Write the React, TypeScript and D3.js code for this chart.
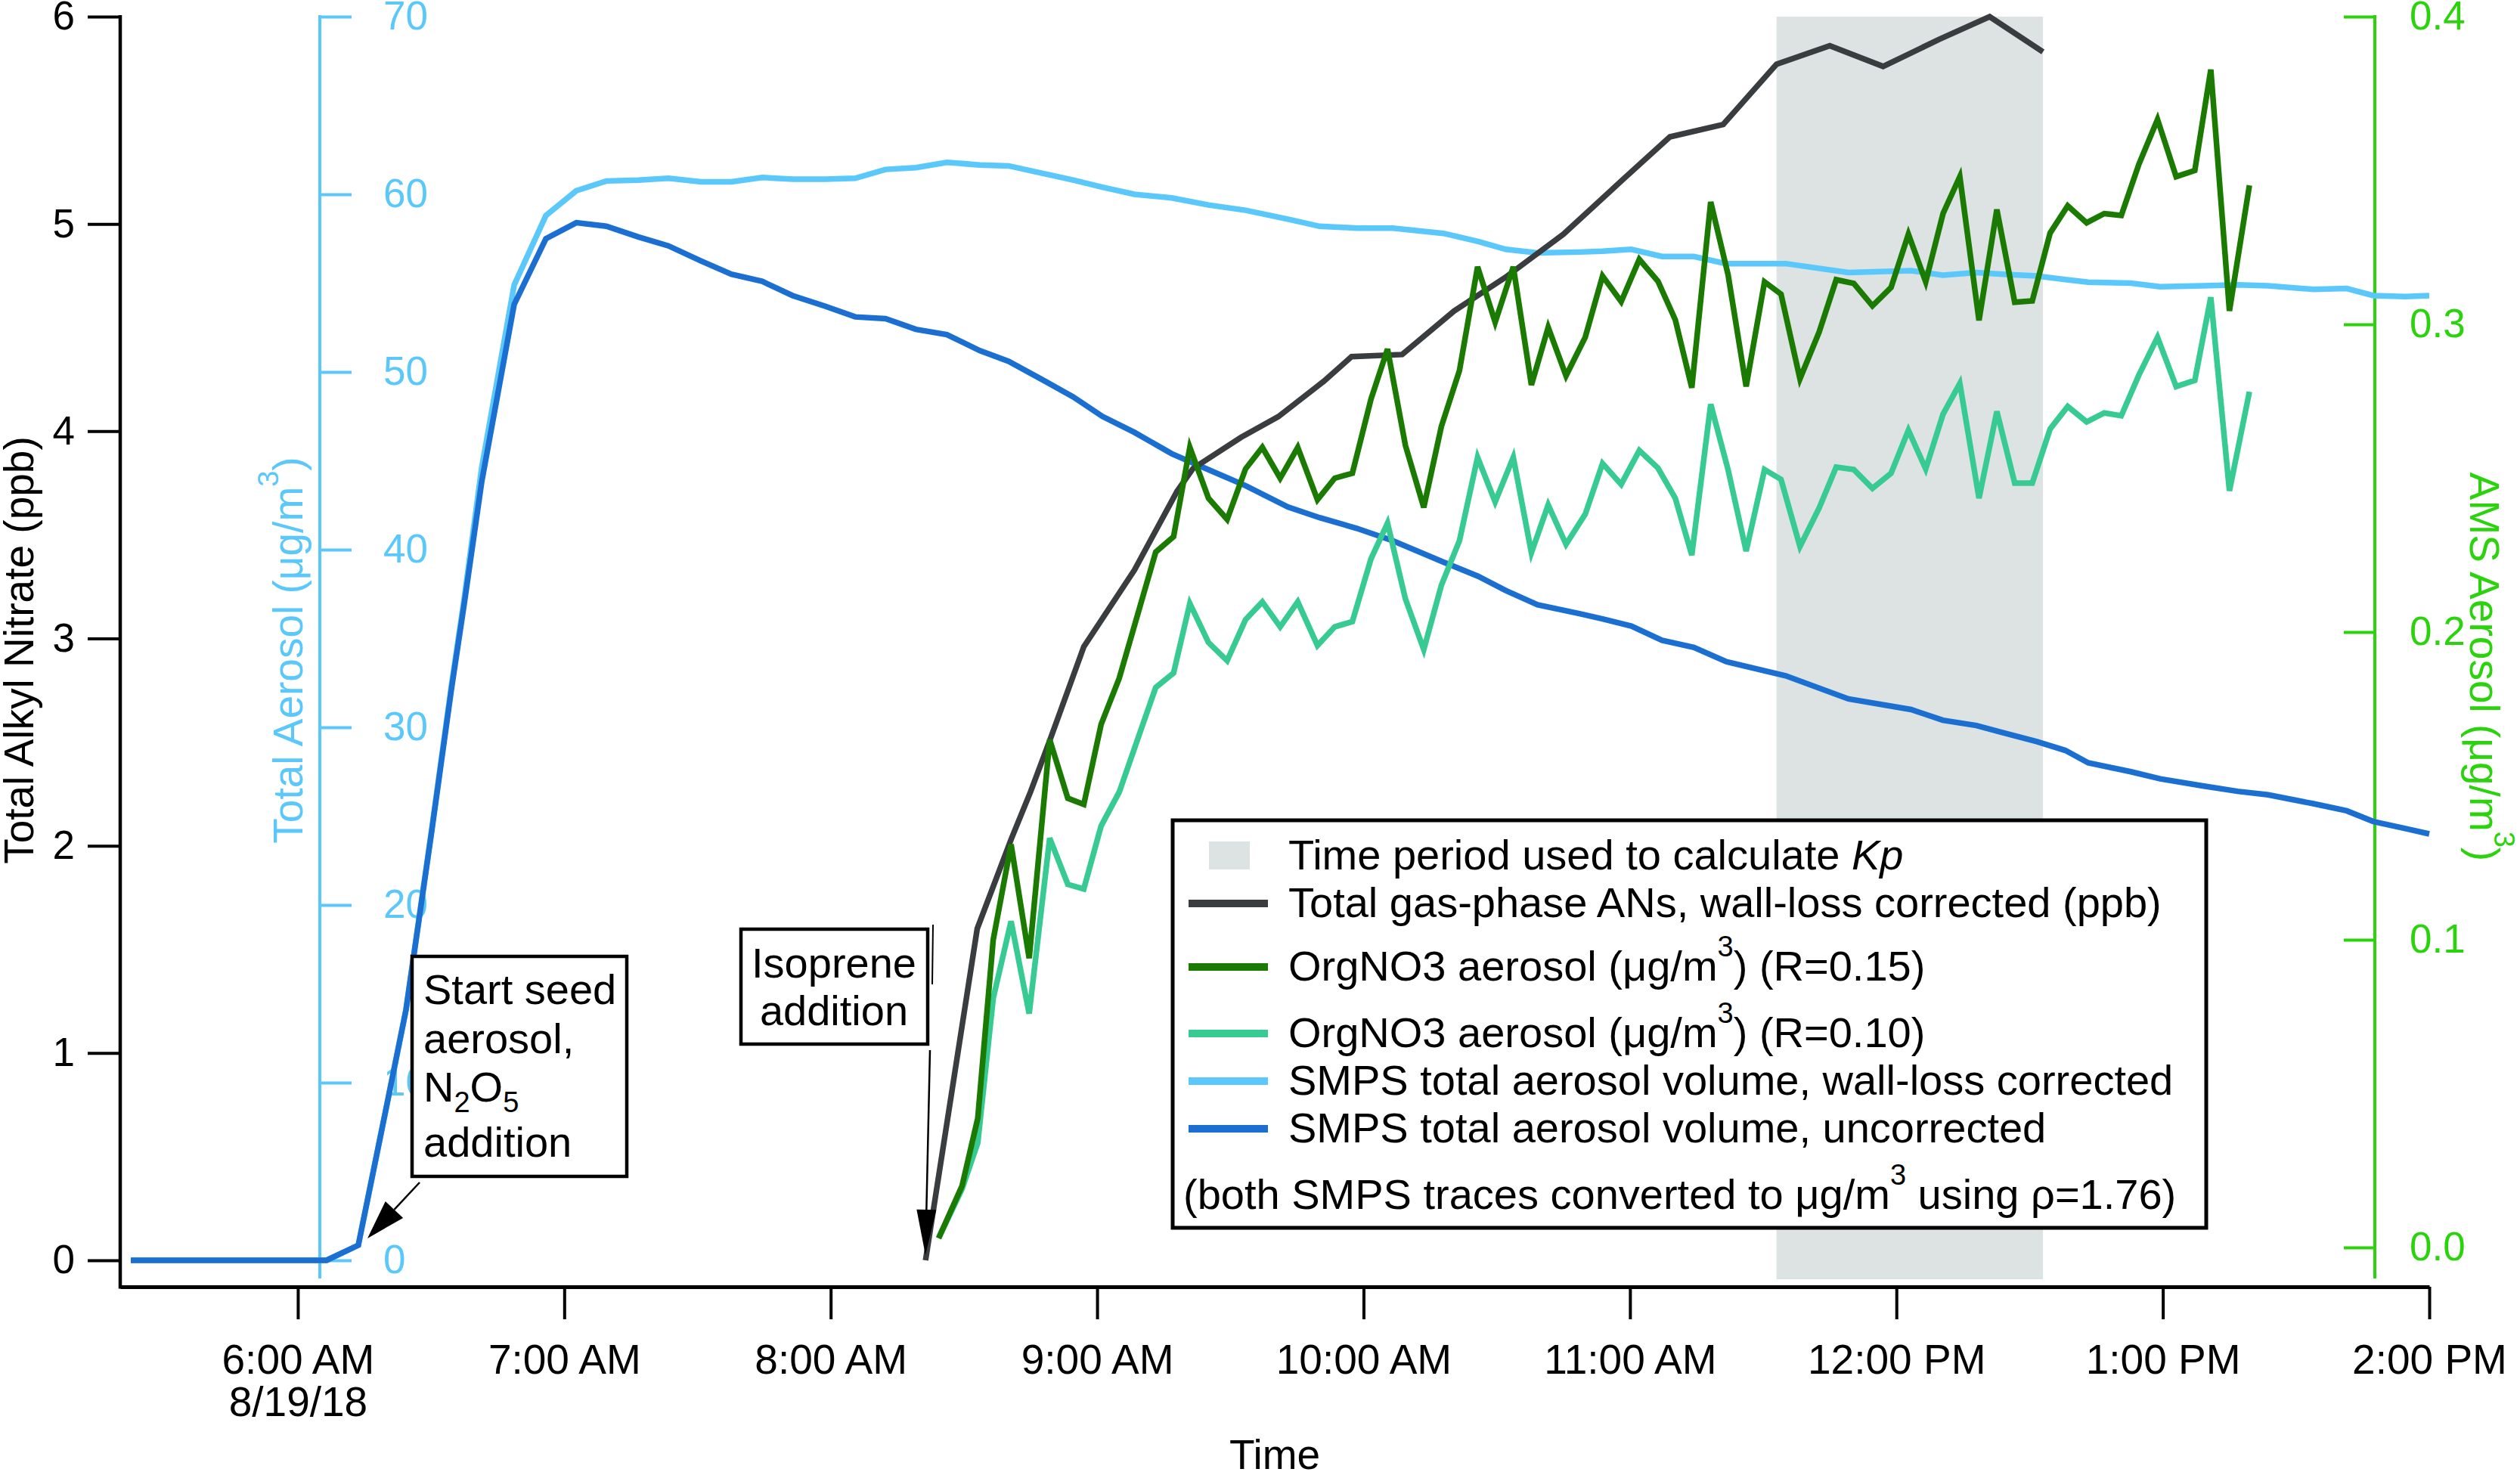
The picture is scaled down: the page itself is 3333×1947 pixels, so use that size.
import React, { useEffect, useRef } from 'react';
import * as d3 from 'd3';

const W = 3333;
const H = 1947;
const FONT = '"Liberation Sans", Arial, Helvetica, sans-serif';

// times are decimal hours on 8/19/18
const smpsHours = [
  5.373, 6.108, 6.227, 6.332, 6.406, 6.502, 6.576, 6.625, 6.69, 6.812,
  6.931, 7.045, 7.158, 7.278, 7.391, 7.513, 7.627, 7.743, 7.857, 7.979,
  8.092, 8.206, 8.32, 8.436, 8.56, 8.668, 8.79, 8.91, 9.02, 9.14,
  9.28, 9.418, 9.557, 9.716, 9.835, 9.974, 10.11, 10.3, 10.43, 10.534,
  10.653, 10.81, 10.897, 11.005, 11.12, 11.24, 11.36, 11.584, 11.82, 12.055,
  12.174, 12.3, 12.4, 12.527, 12.634, 12.72, 12.88, 12.99, 13.15, 13.28,
  13.395, 13.565, 13.69, 13.79, 13.91, 14.0,
];
const smpsUncorrected = [
  0, 0, 0.85, 8.6, 14.1, 24.1, 32.1, 37.0, 43.8, 53.8,
  57.5, 58.4, 58.2, 57.6, 57.1, 56.25, 55.5, 55.1, 54.3, 53.7,
  53.1, 53.0, 52.4, 52.1, 51.2, 50.6, 49.6, 48.6, 47.5, 46.6,
  45.4, 44.5, 43.6, 42.4, 41.8, 41.2, 40.5, 39.3, 38.5, 37.7,
  36.9, 36.4, 36.1, 35.7, 34.9, 34.5, 33.7, 32.9, 31.6, 31.0,
  30.4, 30.1, 29.7, 29.2, 28.7, 28.0, 27.5, 27.1, 26.7, 26.4,
  26.2, 25.7, 25.3, 24.7, 24.3, 24.0,
];
const smpsCorrected = [
  0, 0, 0.85, 8.6, 14.1, 24.2, 32.3, 37.3, 44.6, 54.9,
  58.8, 60.2, 60.75, 60.8, 60.9, 60.7, 60.7, 60.95, 60.85, 60.85,
  60.9, 61.4, 61.5, 61.8, 61.65, 61.6, 61.2, 60.8, 60.4, 60.0,
  59.8, 59.4, 59.1, 58.6, 58.2, 58.1, 58.1, 57.8, 57.35, 56.9,
  56.7, 56.75, 56.8, 56.9, 56.5, 56.5, 56.1, 56.1, 55.6, 55.7,
  55.45, 55.6, 55.5, 55.4, 55.2, 55.05, 55.0, 54.8, 54.85, 54.9,
  54.85, 54.65, 54.7, 54.3, 54.25, 54.3,
];

const anHours = [
  8.356, 8.55, 8.677, 8.75, 8.82, 8.95, 9.14, 9.3, 9.36, 9.54,
  9.68, 9.85, 9.955, 10.145, 10.34, 10.53, 10.75, 10.97, 11.15, 11.35,
  11.55, 11.75, 11.95, 12.16, 12.35, 12.55,
];
const totalANs = [
  0.0, 1.6, 2.03, 2.26, 2.5, 2.96, 3.33, 3.71, 3.82, 3.97,
  4.07, 4.24, 4.36, 4.37, 4.58, 4.74, 4.95, 5.21, 5.42, 5.48,
  5.77, 5.86, 5.76, 5.89, 6.0, 5.83,
];

const amsHours = [
  8.405, 8.493, 8.552, 8.61, 8.677, 8.745, 8.822, 8.89, 8.95, 9.015,
  9.083, 9.22, 9.287, 9.348, 9.418, 9.488, 9.557, 9.62, 9.687, 9.753,
  9.827, 9.892, 9.958, 10.028, 10.09, 10.157, 10.226, 10.292, 10.36, 10.428,
  10.494, 10.562, 10.63, 10.693, 10.76, 10.832, 10.897, 10.967, 11.035, 11.105,
  11.17, 11.232, 11.303, 11.368, 11.436, 11.505, 11.567, 11.638, 11.71, 11.774,
  11.84, 11.91, 11.98, 12.045, 12.11, 12.175, 12.238, 12.31, 12.377, 12.444,
  12.51, 12.577, 12.643, 12.714, 12.78, 12.844, 12.91, 12.98, 13.05, 13.12,
  13.18, 13.25, 13.325,
];
const orgNO3R015 = [
  0.003, 0.02, 0.042, 0.1, 0.131, 0.094, 0.165, 0.146, 0.144, 0.17,
  0.185, 0.226, 0.231, 0.26, 0.2435, 0.2366, 0.253, 0.26, 0.25, 0.26,
  0.243, 0.25, 0.2516, 0.2757, 0.292, 0.2607, 0.2405, 0.2668, 0.285, 0.3187,
  0.3007, 0.3187, 0.2803, 0.299, 0.2833, 0.2958, 0.3157, 0.3074, 0.3211, 0.314,
  0.3015, 0.2794, 0.3398, 0.3162, 0.2798, 0.3138, 0.3098, 0.2823, 0.2975, 0.3145,
  0.3133, 0.306, 0.312, 0.3293, 0.3138, 0.336, 0.348, 0.3013, 0.3373, 0.3072,
  0.3076, 0.3297, 0.3385, 0.333, 0.336, 0.3354, 0.352, 0.3666, 0.348, 0.35,
  0.3828, 0.3044, 0.3452,
];
const orgNO3R010 = [
  0.003, 0.019, 0.034, 0.081, 0.106, 0.076, 0.133, 0.118, 0.1165, 0.137,
  0.148, 0.182, 0.1867, 0.2093, 0.1966, 0.1907, 0.204, 0.2098, 0.2017, 0.2098,
  0.1956, 0.2017, 0.2034, 0.2238, 0.2354, 0.2108, 0.1943, 0.2152, 0.2297, 0.2568,
  0.2423, 0.2568, 0.2258, 0.2413, 0.2285, 0.2383, 0.2548, 0.248, 0.259, 0.2533,
  0.2435, 0.225, 0.274, 0.2528, 0.2263, 0.2528, 0.2496, 0.2278, 0.2403, 0.2536,
  0.2528, 0.2467, 0.2516, 0.2656, 0.253, 0.2708, 0.2808, 0.2435, 0.2717, 0.2484,
  0.2484, 0.266, 0.2733, 0.2683, 0.2712, 0.2703, 0.2835, 0.2958, 0.2798, 0.2818,
  0.3088, 0.2459, 0.2781,
];

const kpPeriod = [11.55, 12.55];
const timeTicks = [6, 7, 8, 9, 10, 11, 12, 13, 14];
const alkylTicks = [0, 1, 2, 3, 4, 5, 6];
const volumeTicks = [0, 10, 20, 30, 40, 50, 60, 70];
const amsTicks = [0, 0.1, 0.2, 0.3, 0.4];

type Part = [string, '' | 'sup' | 'sub' | 'i'];

const legendLabels: Part[][] = [
  [['Time period used to calculate ', ''], ['Kp', 'i']],
  [['Total gas-phase ANs, wall-loss corrected (ppb)', '']],
  [['OrgNO3 aerosol (μg/m', ''], ['3', 'sup'], [') (R=0.15)', '']],
  [['OrgNO3 aerosol (μg/m', ''], ['3', 'sup'], [') (R=0.10)', '']],
  [['SMPS total aerosol volume, wall-loss corrected', '']],
  [['SMPS total aerosol volume, uncorrected', '']],
];
const legendNote: Part[] = [['(both SMPS traces converted to μg/m', ''], ['3', 'sup'], [' using ρ=1.76)', '']];

const seedNote: Part[][] = [
  [['Start seed', '']],
  [['aerosol,', '']],
  [['N', ''], ['2', 'sub'], ['O', ''], ['5', 'sub']],
  [['addition', '']],
];
const isopreneNote = ['Isoprene', 'addition'];

const COLORS = {
  shade: '#dde2e2',
  ans: '#3a3d40',
  orgHi: '#1b7a02',
  orgLo: '#38ca93',
  corrected: '#5ac8fa',
  uncorrected: '#1b6fd1',
  amsAxis: '#2bd30d',
};

const day = new Date(2018, 7, 19).getTime();
const toDate = (h: number) => new Date(day + h * 3600 * 1000);

function richText(sel: any, parts: Part[], small: number) {
  let shift = 0;
  parts.forEach(([s, kind]) => {
    const target = kind === 'sup' ? -32 : kind === 'sub' ? 14 : 0;
    const t = sel.append('tspan').attr('dy', target - shift).text(s);
    if (kind === 'sup' || kind === 'sub') t.attr('font-size', small);
    if (kind === 'i') t.attr('font-style', 'italic');
    shift = target;
  });
}

function arrow(g: any, x1: number, y1: number, x2: number, y2: number, len: number, half: number, width: number) {
  const dx = x2 - x1;
  const dy = y2 - y1;
  const d = Math.hypot(dx, dy);
  const ux = dx / d;
  const uy = dy / d;
  const bx = x2 - ux * len;
  const by = y2 - uy * len;
  g.append('line').attr('x1', x1).attr('y1', y1).attr('x2', bx).attr('y2', by)
    .attr('stroke', '#000').attr('stroke-width', width);
  g.append('path')
    .attr('d', `M${x2},${y2}L${bx - uy * half},${by + ux * half}L${bx + uy * half},${by - ux * half}Z`)
    .attr('fill', '#000');
}

const App: React.FC = () => {
  const svgRef = useRef<SVGSVGElement>(null);

  useEffect(() => {
    if (!svgRef.current) return;
    const svg = d3.select(svgRef.current);
    svg.selectAll('*').remove();
    svg.attr('font-family', FONT);

    const plotLeft = 159;
    const plotRight = 3213;
    const axisY = 1702;
    const top = 22;
    const zeroY = 1667;
    const amsZeroY = 1650;
    const volAxisX = 423;
    const amsAxisX = 3141;

    const x = d3.scaleTime().domain([toDate(5 + 20 / 60), toDate(14)]).range([plotLeft, plotRight]);
    const yAN = d3.scaleLinear().domain([0, 6]).range([zeroY, top]);
    const yVol = d3.scaleLinear().domain([0, 70]).range([zeroY, top]);
    const yAMS = d3.scaleLinear().domain([0, 0.4]).range([amsZeroY, top]);

    // Kp period shading
    svg.append('rect')
      .attr('x', x(toDate(kpPeriod[0])))
      .attr('y', top)
      .attr('width', x(toDate(kpPeriod[1])) - x(toDate(kpPeriod[0])))
      .attr('height', 1692 - top)
      .attr('fill', COLORS.shade);

    // bottom axis
    const xAxis = svg.append('g')
      .attr('transform', `translate(0,${axisY})`)
      .call(d3.axisBottom(x)
        .tickValues(timeTicks.map(toDate))
        .tickFormat(d3.timeFormat('%-I:%M %p') as any)
        .tickSize(43).tickSizeOuter(0).tickPadding(33));
    xAxis.attr('font-size', 55).attr('font-family', FONT);
    xAxis.select('.domain').attr('stroke', '#000').attr('stroke-width', 5);
    xAxis.selectAll('.tick line').attr('stroke', '#000').attr('stroke-width', 4);
    xAxis.selectAll('.tick text').attr('fill', '#000');
    xAxis.select('.tick text').append('tspan')
      .attr('x', 0).attr('dy', '1.02em')
      .text(d3.timeFormat('%-m/%-d/%y')(toDate(6)));

    // left axis
    const leftAxis = svg.append('g')
      .attr('transform', `translate(${plotLeft},0)`)
      .call(d3.axisLeft(yAN).tickValues(alkylTicks).tickFormat(d3.format('d') as any).tickSize(43).tickPadding(17));
    leftAxis.attr('font-size', 53).attr('font-family', FONT);
    leftAxis.select('.domain').remove();
    leftAxis.selectAll('.tick line').attr('stroke', '#000').attr('stroke-width', 4);
    leftAxis.selectAll('.tick text').attr('fill', '#000');
    svg.append('line').attr('x1', plotLeft).attr('x2', plotLeft).attr('y1', top - 2).attr('y2', axisY + 2.5)
      .attr('stroke', '#000').attr('stroke-width', 4.5);

    // total aerosol axis
    const volAxis = svg.append('g')
      .attr('transform', `translate(${volAxisX},0)`)
      .call(d3.axisRight(yVol).tickValues(volumeTicks).tickFormat(d3.format('d') as any).tickSize(42).tickPadding(42));
    volAxis.attr('font-size', 53).attr('font-family', FONT);
    volAxis.select('.domain').remove();
    volAxis.selectAll('.tick line').attr('stroke', COLORS.corrected).attr('stroke-width', 4);
    volAxis.selectAll('.tick text').attr('fill', COLORS.corrected);
    svg.append('line').attr('x1', volAxisX).attr('x2', volAxisX).attr('y1', top - 2).attr('y2', 1691)
      .attr('stroke', COLORS.corrected).attr('stroke-width', 4);

    // AMS axis
    const amsAxis = svg.append('g')
      .attr('transform', `translate(${amsAxisX},0)`)
      .call(d3.axisRight(yAMS).tickValues(amsTicks).tickFormat(d3.format('.1f') as any).tickSize(-41).tickPadding(46));
    amsAxis.attr('font-size', 53).attr('font-family', FONT);
    amsAxis.select('.domain').remove();
    amsAxis.selectAll('.tick line').attr('stroke', COLORS.amsAxis).attr('stroke-width', 4);
    amsAxis.selectAll('.tick text').attr('fill', COLORS.amsAxis);
    svg.append('line').attr('x1', amsAxisX).attr('x2', amsAxisX).attr('y1', top - 2).attr('y2', 1691)
      .attr('stroke', COLORS.amsAxis).attr('stroke-width', 4);

    // axis titles
    svg.append('text')
      .attr('transform', 'translate(44,860) rotate(-90)')
      .attr('text-anchor', 'middle').attr('font-size', 55).attr('fill', '#000')
      .text('Total Alkyl Nitrate (ppb)');
    richText(svg.append('text')
      .attr('transform', 'translate(400,860) rotate(-90)')
      .attr('text-anchor', 'middle').attr('font-size', 55).attr('fill', COLORS.corrected),
      [['Total Aerosol (μg/m', ''], ['3', 'sup'], [')', '']], 38);
    richText(svg.append('text')
      .attr('transform', 'translate(3267,882) rotate(90)')
      .attr('text-anchor', 'middle').attr('font-size', 55).attr('fill', COLORS.amsAxis),
      [['AMS Aerosol (μg/m', ''], ['3', 'sup'], [')', '']], 38);
    svg.append('text')
      .attr('x', (plotLeft + plotRight) / 2 + 0).attr('y', 1943)
      .attr('text-anchor', 'middle').attr('font-size', 55).attr('fill', '#000')
      .text('Time');

    // series
    const lineOf = (hours: number[], yScale: d3.ScaleLinear<number, number>) =>
      d3.line<number>().x((_, i) => x(toDate(hours[i]))).y((d) => yScale(d));

    const series: [number[], number[], d3.ScaleLinear<number, number>, string][] = [
      [smpsHours, smpsCorrected, yVol, COLORS.corrected],
      [smpsHours, smpsUncorrected, yVol, COLORS.uncorrected],
      [anHours, totalANs, yAN, COLORS.ans],
      [amsHours, orgNO3R010, yAMS, COLORS.orgLo],
      [amsHours, orgNO3R015, yAMS, COLORS.orgHi],
    ];
    series.forEach(([hours, values, yScale, color]) => {
      svg.append('path')
        .datum(values)
        .attr('fill', 'none')
        .attr('stroke', color)
        .attr('stroke-width', 7.5)
        .attr('d', lineOf(hours, yScale));
    });

    // legend
    const lg = svg.append('g');
    lg.append('rect').attr('x', 1551).attr('y', 1085).attr('width', 1367).attr('height', 539)
      .attr('fill', '#fff').attr('stroke', '#000').attr('stroke-width', 5);
    const baselines = [1150, 1213, 1297, 1385, 1448, 1511];
    const swatchColors = [COLORS.shade, COLORS.ans, COLORS.orgHi, COLORS.orgLo, COLORS.corrected, COLORS.uncorrected];
    legendLabels.forEach((parts, i) => {
      const by = baselines[i];
      if (i === 0) {
        lg.append('rect').attr('x', 1599).attr('y', by - 37).attr('width', 54).attr('height', 37)
          .attr('fill', swatchColors[i]);
      } else {
        lg.append('line').attr('x1', 1572).attr('x2', 1677).attr('y1', by - 18).attr('y2', by - 18)
          .attr('stroke', swatchColors[i]).attr('stroke-width', 10);
      }
      richText(lg.append('text').attr('x', 1704).attr('y', by).attr('font-size', 56).attr('fill', '#000'), parts, 38);
    });
    richText(lg.append('text').attr('x', 1565).attr('y', 1599).attr('font-size', 56).attr('fill', '#000'), legendNote, 38);

    // annotations
    const an = svg.append('g');
    an.append('rect').attr('x', 545).attr('y', 1265).attr('width', 284).attr('height', 291)
      .attr('fill', '#fff').attr('stroke', '#000').attr('stroke-width', 4.5);
    const seedBaselines = [1328, 1393, 1457, 1530];
    seedNote.forEach((parts, i) => {
      richText(an.append('text').attr('x', 560).attr('y', seedBaselines[i]).attr('font-size', 56).attr('fill', '#000'), parts, 38);
    });
    arrow(an, 555, 1564, 486, 1638, 52, 16, 2.5);

    an.append('line').attr('x1', 1234).attr('y1', 1223).attr('x2', 1233).attr('y2', 1302)
      .attr('stroke', '#000').attr('stroke-width', 2);
    an.append('rect').attr('x', 980).attr('y', 1229).attr('width', 247).attr('height', 152)
      .attr('fill', '#fff').attr('stroke', '#000').attr('stroke-width', 4.5);
    isopreneNote.forEach((s, i) => {
      an.append('text').attr('x', 1103).attr('y', [1293, 1356][i]).attr('text-anchor', 'middle')
        .attr('font-size', 56).attr('fill', '#000').text(s);
    });
    arrow(an, 1230, 1389, 1224, 1660, 60, 13, 2.5);
  }, []);

  return (
    <svg
      ref={svgRef}
      width={W}
      height={H}
      style={{ position: 'absolute', left: 0, top: 0, background: '#fff' }}
    />
  );
};

export default App;
